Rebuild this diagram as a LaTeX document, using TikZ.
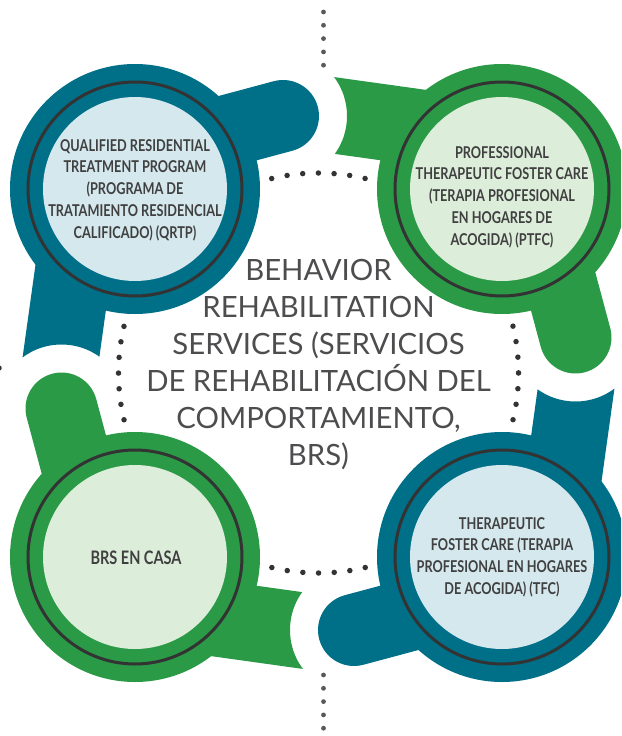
\documentclass[tikz,border=0pt]{standalone}
\usepackage{fontspec}
\setmainfont{Lato}
\newfontfamily\boxfont[FakeStretch=0.78]{Lato}

\definecolor{brsteal}{HTML}{006F88}
\definecolor{brsgreen}{HTML}{2A9A47}
\definecolor{tealpale}{HTML}{D5E8EE}
\definecolor{greenpale}{HTML}{DCEDDA}
\definecolor{ringgray}{HTML}{333333}
\definecolor{labelgray}{HTML}{404040}
\definecolor{midgray}{HTML}{4D4D4F}
\definecolor{dotgray}{HTML}{333333}
\definecolor{linkgray}{HTML}{58595B}

\tikzset{
  ring/.style={draw=ringgray, line width=3pt},
  boxtext/.style={font=\boxfont\bfseries\fontsize{16.3}{21.7}\selectfont,
    text=labelgray, align=center, inner sep=0pt},
  midtext/.style={font=\fontsize{29.3}{37}\selectfont,
    text=midgray, align=center, inner sep=0pt},
  dotloop/.style={draw=dotgray, line width=5.5pt, line cap=round,
    dash pattern=on 0pt off 15.708pt},
  dotlink/.style={draw=linkgray, line width=4.8pt, line cap=round,
    dash pattern=on 0pt off 13.3pt}
}

\begin{document}
\begin{tikzpicture}[x=1pt,y=-1pt]
  \clip (0,0) rectangle (621,736);
  \coordinate (mid) at (318.5,373);

  % dotted links
  \draw[dotloop] (mid) circle (200);
  \coordinate (top a) at (323.5,12);
  \coordinate (top b) at (323.5,66);
  \coordinate (bot a) at (323.5,675);
  \coordinate (bot b) at (323.5,735);
  \coordinate (left a) at (-1,368);
  \coordinate (left b) at (-30,368);
  \draw[dotlink] (top a) -- (top b);
  \draw[dotlink] (bot a) -- (bot b);
  \draw[dotloop] (left a) -- (left b);

  % tails: round end, and end cut round the next one
  \foreach \ang/\col in {0/brsteal,-90/brsgreen,-180/brsteal,-270/brsgreen}{
    \begin{scope}[rotate around={\ang:(mid)}]
      \draw[\col, line width=72pt, line cap=round] (186,142) -- (283,116);
      \begin{scope}[even odd rule]
        \clip (-300,-300) rectangle (950,1050)
          (61.5,409.5) circle (65);
        \draw[\col, line width=76pt] (81,213.5) -- (55,400);
      \end{scope}
    \end{scope}
  }

  % circles
  \foreach \x/\y/\outc/\inc in {135/189/brsteal/tealpale, 502/189/brsgreen/greenpale,
      502/557/brsteal/tealpale, 135/557/brsgreen/greenpale}{
    \fill[\outc] (\x,\y) circle (125);
    \fill[\inc] (\x,\y) circle (92);
    \draw[ring] (\x,\y) circle (107);
  }

  \node[boxtext] (qrtp) at (135,190) {QUALIFIED RESIDENTIAL\\TREATMENT PROGRAM\\(PROGRAMA DE\\TRATAMIENTO RESIDENCIAL\\CALIFICADO) (QRTP)};
  \node[boxtext] (ptfc) at (502,197) {PROFESSIONAL\\THERAPEUTIC FOSTER CARE\\(TERAPIA PROFESIONAL\\EN HOGARES DE\\ACOGIDA) (PTFC)};
  \node[boxtext] (tfc) at (502,557) {THERAPEUTIC\\FOSTER CARE (TERAPIA\\PROFESIONAL EN HOGARES\\DE ACOGIDA) (TFC)};
  \node[boxtext, font=\boxfont\bfseries\fontsize{18.6}{22}\selectfont] (casa) at (136,558) {BRS EN CASA};
  \node[midtext] (brs) at (318.5,364.5) {BEHAVIOR\\REHABILITATION\\SERVICES (SERVICIOS\\DE REHABILITACIÓN DEL\\COMPORTAMIENTO,\\BRS)};
\end{tikzpicture}
\end{document}
